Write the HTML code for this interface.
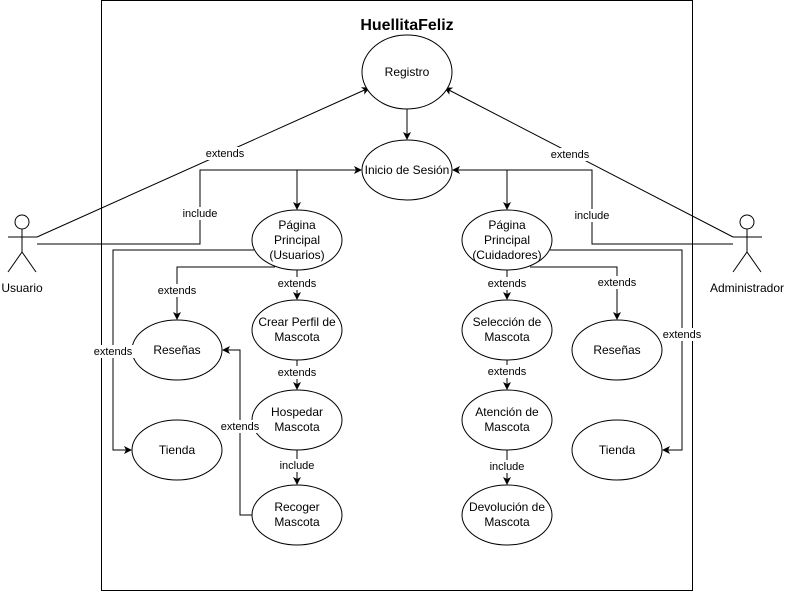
<!DOCTYPE html>
<html><head><meta charset="utf-8"><style>body{margin:0;background:#fff}svg{display:block}</style></head><body>
<svg width="786" height="591" viewBox="0 0 786 591" xmlns="http://www.w3.org/2000/svg" font-family="Liberation Sans, sans-serif" font-size="12">
<defs><marker id="a" markerWidth="8" markerHeight="8" refX="7" refY="4" orient="auto" markerUnits="userSpaceOnUse"><path d="M0,0 L8,4 L0,8 L2,4 z" fill="#000"/></marker></defs>
<rect x="101.5" y="0.5" width="591" height="590" fill="none" stroke="#000"/>
<text x="407" y="30" text-anchor="middle" font-size="16" font-weight="bold">HuellitaFeliz</text>
<g fill="none" stroke="#000">
<line x1="37" y1="237" x2="369" y2="88" marker-end="url(#a)"/>
<line x1="733" y1="237" x2="445" y2="88" marker-end="url(#a)"/>
<polyline points="37,244 200,244 200,170 361,170" marker-end="url(#a)"/>
<polyline points="733,244 592,244 592,170 453,170" marker-end="url(#a)"/>
<line x1="407" y1="109" x2="407" y2="139" marker-end="url(#a)"/>
<line x1="297" y1="170" x2="297" y2="209" marker-end="url(#a)"/>
<line x1="507" y1="170" x2="507" y2="209" marker-end="url(#a)"/>
<polyline points="254,250 113,250 113,450 131,450" marker-end="url(#a)"/>
<polyline points="275,267 177,267 177,319" marker-end="url(#a)"/>
<line x1="297" y1="270" x2="297" y2="299" marker-end="url(#a)"/>
<line x1="297" y1="360" x2="297" y2="389" marker-end="url(#a)"/>
<line x1="297" y1="450" x2="297" y2="484" marker-end="url(#a)"/>
<polyline points="252,515 240,515 240,350 223,350" marker-end="url(#a)"/>
<polyline points="550,250 682,250 682,450 663,450" marker-end="url(#a)"/>
<polyline points="530,267 617,267 617,319" marker-end="url(#a)"/>
<line x1="507" y1="270" x2="507" y2="299" marker-end="url(#a)"/>
<line x1="507" y1="360" x2="507" y2="389" marker-end="url(#a)"/>
<line x1="507" y1="450" x2="507" y2="484" marker-end="url(#a)"/>
<ellipse cx="407" cy="72" rx="45" ry="37" fill="#fff"/>
<ellipse cx="407" cy="170" rx="45" ry="30" fill="#fff"/>
<ellipse cx="297" cy="240" rx="45" ry="30" fill="#fff"/>
<ellipse cx="507" cy="240" rx="45" ry="30" fill="#fff"/>
<ellipse cx="177" cy="350" rx="45" ry="30" fill="#fff"/>
<ellipse cx="177" cy="450" rx="45" ry="30" fill="#fff"/>
<ellipse cx="297" cy="330" rx="45" ry="30" fill="#fff"/>
<ellipse cx="297" cy="420" rx="45" ry="30" fill="#fff"/>
<ellipse cx="297" cy="515" rx="45" ry="30" fill="#fff"/>
<ellipse cx="507" cy="330" rx="45" ry="30" fill="#fff"/>
<ellipse cx="507" cy="420" rx="45" ry="30" fill="#fff"/>
<ellipse cx="507" cy="515" rx="45" ry="30" fill="#fff"/>
<ellipse cx="617" cy="350" rx="45" ry="30" fill="#fff"/>
<ellipse cx="617" cy="450" rx="45" ry="30" fill="#fff"/>
<circle cx="22" cy="222" r="7"/><path d="M22,229V252M8,237H37M22,252L8,272M22,252L36,272"/>
<circle cx="747" cy="222" r="7"/><path d="M747,229V252M733,237H762M747,252L733,272M747,252L761,272"/>
</g>
<g text-anchor="middle">
<text x="22" y="292">Usuario</text><text x="747" y="292">Administrador</text>
<text x="407" y="76">Registro</text>
<text x="407" y="174">Inicio de Sesión</text>
<text x="297" y="229">Página</text><text x="297" y="244">Principal</text><text x="297" y="259">(Usuarios)</text>
<text x="507" y="229">Página</text><text x="507" y="244">Principal</text><text x="507" y="259">(Cuidadores)</text>
<text x="177" y="354">Reseñas</text><text x="177" y="454">Tienda</text>
<text x="617" y="354">Reseñas</text><text x="617" y="454">Tienda</text>
<text x="297" y="326">Crear Perfil de</text><text x="297" y="341">Mascota</text>
<text x="297" y="416">Hospedar</text><text x="297" y="431">Mascota</text>
<text x="297" y="511">Recoger</text><text x="297" y="526">Mascota</text>
<text x="507" y="326">Selección de</text><text x="507" y="341">Mascota</text>
<text x="507" y="416">Atención de</text><text x="507" y="431">Mascota</text>
<text x="507" y="511">Devolución de</text><text x="507" y="526">Mascota</text>
</g>
<g text-anchor="middle" font-size="11">
<rect x="203" y="147" width="44" height="13" fill="#fff"/><text x="225" y="157">extends</text>
<rect x="548" y="148" width="44" height="13" fill="#fff"/><text x="570" y="158">extends</text>
<rect x="181" y="207" width="38" height="13" fill="#fff"/><text x="200" y="217">include</text>
<rect x="573" y="209" width="38" height="13" fill="#fff"/><text x="592" y="219">include</text>
<rect x="91" y="345" width="44" height="13" fill="#fff"/><text x="113" y="355">extends</text>
<rect x="155" y="284" width="44" height="13" fill="#fff"/><text x="177" y="294">extends</text>
<rect x="275" y="277" width="44" height="13" fill="#fff"/><text x="297" y="287">extends</text>
<rect x="275" y="366" width="44" height="13" fill="#fff"/><text x="297" y="376">extends</text>
<rect x="278" y="459" width="38" height="13" fill="#fff"/><text x="297" y="469">include</text>
<rect x="218" y="420" width="44" height="13" fill="#fff"/><text x="240" y="430">extends</text>
<rect x="660" y="328" width="44" height="13" fill="#fff"/><text x="682" y="338">extends</text>
<rect x="595" y="276" width="44" height="13" fill="#fff"/><text x="617" y="286">extends</text>
<rect x="485" y="277" width="44" height="13" fill="#fff"/><text x="507" y="287">extends</text>
<rect x="485" y="365" width="44" height="13" fill="#fff"/><text x="507" y="375">extends</text>
<rect x="488" y="460" width="38" height="13" fill="#fff"/><text x="507" y="470">include</text>
</g>
</svg>
</body></html>
